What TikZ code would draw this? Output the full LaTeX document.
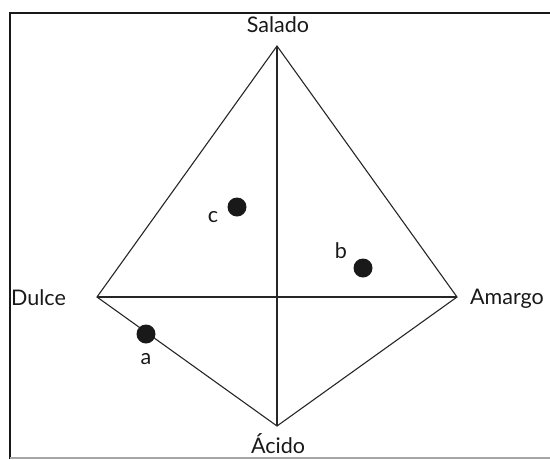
\documentclass[tikz,border=0pt]{standalone}
\usepackage{fontspec}
\setmainfont{Lato}
\begin{document}
\begin{tikzpicture}[x=1pt,y=-1pt,
  edge/.style={draw=black!85,line width=1.1pt},
  dot/.style={circle,fill=black!90,inner sep=0pt,minimum size=19pt},
  lbl/.style={font=\fontsize{21.5}{24}\selectfont,text=black!90,inner sep=0pt},
  frame/.style={draw=black!90,line width=2pt}]
\useasboundingbox (0,0) rectangle (550,459);
% frame
\draw[frame] (10,459) -- (10,13) -- (550,13);
\draw[draw=black!35,line width=1.2pt] (10,458) -- (550,458);
% vertices
\coordinate (S) at (277,46);
\coordinate (D) at (97,297);
\coordinate (M) at (457,297);
\coordinate (A) at (277,426);
\draw[edge] (D) -- (S) -- (M) -- (A) -- cycle;
\draw[edge] (S) -- (A);
\draw[edge] (D) -- (M);
% labels
\node[lbl] (ls) at (278,25) {Salado};
\node[lbl,anchor=west] (ld) at (11,298) {Dulce};
\node[lbl,anchor=west] (lm) at (470,299) {Amargo};
\node[lbl] (la) at (278,444) {Ácido};
% points
\node[dot] (pc) at (237,207) {};
\node[dot] (pb) at (363,268) {};
\node[dot] (pa) at (146,334) {};
\node[lbl] (lc) at (213,217) {c};
\node[lbl] (lb) at (341,251) {b};
\node[lbl] (la2) at (146,359) {a};
\end{tikzpicture}
\end{document}
